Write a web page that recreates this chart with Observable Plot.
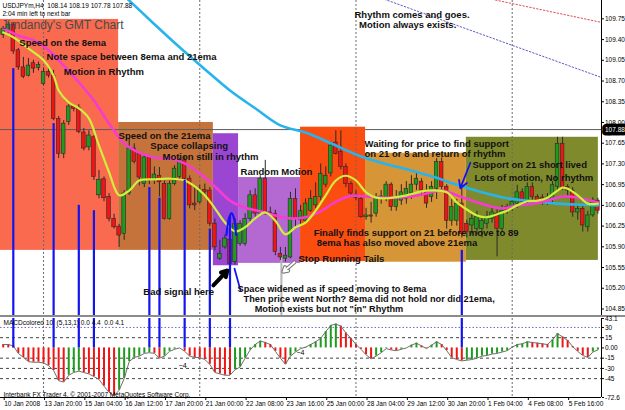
<!DOCTYPE html>
<html>
<head>
<meta charset="utf-8">
<script src="https://cdn.jsdelivr.net/npm/d3@7"></script>
<script src="https://cdn.jsdelivr.net/npm/@observablehq/plot@0.6"></script>
<style>
  html, body { margin: 0; padding: 0; background: #fff; }
  #chart { width: 625px; height: 410px; overflow: hidden; background: #fff; }
  #chart svg { display: block; }
  #divider { height: 2px; background: #8c8c8c; }
</style>
</head>
<body>
<div id="chart"></div>
<script>
// ---------------- DATA ----------------
const open = [109.48,109.55,109.65,109.22,108.93,108.79,109.00,108.92,108.65,108.85,
108.79,108.06,107.47,108.01,108.27,108.25,107.83,107.58,107.75,106.77,
107.04,106.74,106.37,106.24,106.12,106.80,107.56,107.47,106.96,107.41,
107.02,107.10,106.96,106.37,106.96,107.08,107.36,107.05,106.63,106.65,
106.86,106.85,106.29,105.70,105.89,106.02,105.64,105.95,105.95,106.37,
106.77,106.46,107.05,106.48,106.46,105.78,105.70,105.72,106.71,106.35,
106.34,106.51,106.60,106.74,106.95,107.14,107.66,107.50,107.25,106.96,
106.77,106.71,106.40,106.43,106.46,106.71,106.73,106.95,106.57,106.68,
106.71,106.80,106.95,107.00,106.85,106.74,106.88,107.33,106.91,106.34,
106.34,106.63,106.29,106.26,106.20,106.20,106.29,106.37,106.46,106.20,
106.57,106.57,106.63,106.82,106.68,106.91,106.74,106.73,106.66,106.71,
106.91,107.64,106.91,106.85,106.48,106.54,106.23,106.43,106.68];
const high = [109.62,109.70,109.68,109.25,109.10,109.08,109.05,109.02,108.92,108.92,
108.88,108.10,108.03,108.30,108.30,108.30,107.90,107.86,107.78,107.19,
107.08,106.80,106.45,106.28,106.85,107.73,107.64,107.50,107.44,107.44,
107.25,107.24,107.01,107.01,107.27,107.39,107.42,107.10,106.91,106.94,
106.96,106.90,106.37,106.01,106.10,106.10,106.37,106.34,106.46,106.85,
106.88,107.10,107.36,106.57,106.52,105.89,105.89,106.82,106.88,106.60,
106.71,106.85,106.98,107.30,107.25,107.67,107.86,107.86,107.30,107.00,
106.85,106.77,106.55,106.65,106.80,106.85,107.00,106.98,106.85,106.95,
107.00,107.10,107.15,107.05,106.95,107.00,107.39,107.40,106.95,106.70,
106.70,106.91,106.35,106.45,106.50,106.40,106.50,106.55,106.55,106.60,
106.62,106.72,106.94,106.88,106.98,106.98,106.78,106.78,106.80,107.00,
107.75,107.75,106.95,106.90,106.60,106.58,106.50,106.73,106.72];
const low = [109.42,109.50,109.15,108.88,108.74,108.77,108.83,108.87,108.62,108.75,
108.03,107.39,107.39,107.95,108.18,107.81,107.52,107.52,107.02,106.71,
106.66,106.32,106.20,105.89,106.01,106.77,107.30,106.93,106.90,106.95,
106.95,106.74,106.35,106.35,106.93,107.02,107.02,106.54,106.51,106.62,
106.77,106.24,105.83,105.67,105.86,105.59,105.59,105.91,105.91,106.32,
106.40,106.43,106.43,106.43,105.75,105.67,105.64,105.70,106.22,106.28,
106.30,106.48,106.55,106.68,106.90,107.08,107.45,107.20,106.90,106.75,
106.68,106.38,106.35,106.30,106.40,106.62,106.66,106.50,106.50,106.60,
106.62,106.70,106.85,106.75,106.55,106.65,106.70,106.85,106.20,106.25,
106.25,106.05,106.05,106.10,106.10,106.05,106.20,106.30,105.73,106.15,
106.45,106.50,106.55,106.60,106.62,106.65,106.62,106.60,106.60,106.65,
106.85,106.85,106.75,106.40,106.35,106.15,106.15,106.40,106.45];
const close = [109.58,109.65,109.20,108.93,108.77,108.96,108.91,108.97,108.85,108.79,
108.06,107.47,107.98,108.27,108.23,107.84,107.56,107.78,107.08,107.03,
106.72,106.37,106.23,106.09,106.80,107.56,107.33,107.07,107.41,107.02,
107.12,106.99,106.37,106.96,107.22,107.36,107.05,106.60,106.60,106.85,
106.82,106.29,105.89,105.78,106.04,105.61,106.29,106.29,106.37,106.77,
106.46,107.05,106.48,106.46,105.81,105.72,105.75,106.71,106.37,106.50,
106.63,106.71,106.74,107.13,107.10,107.61,107.47,107.25,106.96,106.80,
106.73,106.40,106.43,106.41,106.73,106.75,106.95,106.57,106.71,106.82,
106.88,106.95,107.05,106.85,106.63,106.91,107.33,106.91,106.34,106.57,
106.63,106.12,106.15,106.37,106.40,106.34,106.40,106.48,106.20,106.51,
106.51,106.66,106.82,106.66,106.91,106.74,106.68,106.66,106.73,106.94,
107.64,106.88,106.85,106.48,106.54,106.26,106.43,106.68,106.51];

// moving averages (bar index, price)
const ema8Bar = [0,2,5,8,10,11,13,15,17,19,21,23,25,27,30,33,36,38,40,42,44,46,48,50,52,54,56,58,60,62,64,66,68,70,72,74,76,80,84,88,90,92,94,96,98,100,102,104,106,108,110,111,112,114,116,118];
const ema8Val = [109.52,109.44,109.25,109.05,108.79,108.54,108.34,108.24,108.07,107.61,107.16,106.77,106.85,107.02,107.04,107.05,107.02,106.92,106.77,106.55,106.31,106.16,106.23,106.38,106.48,106.34,106.11,106.23,106.31,106.51,106.77,107.02,107.10,107.02,106.82,106.73,106.72,106.77,106.85,106.82,106.65,106.53,106.43,106.40,106.45,106.51,106.60,106.67,106.68,106.73,106.85,106.90,106.88,106.77,106.63,106.63];
const ema21Bar = [0,3,6,9,12,15,18,21,24,27,30,33,36,39,42,45,48,51,54,57,60,63,66,69,72,75,78,81,84,87,90,93,96,99,102,105,108,111,114,117,118];
const ema21Val = [109.59,109.47,109.39,109.22,108.96,108.68,108.37,107.98,107.65,107.49,107.41,107.39,107.31,107.14,106.92,106.68,106.56,106.50,106.43,106.38,106.40,106.50,106.66,106.76,106.75,106.73,106.73,106.75,106.80,106.85,106.77,106.68,106.60,106.55,106.60,106.63,106.68,106.75,106.73,106.67,106.65];
const ema89Bar = [20,25,30,35,40,45,50,55,60,65,70,75,80,85,90,95,100,105,110,115,118];
const ema89Val = [110.45,110.06,109.66,109.27,108.90,108.54,108.24,107.95,107.83,107.65,107.46,107.32,107.21,107.09,106.95,106.82,106.72,106.67,106.63,106.61,106.60];

// MACD histogram per bar
const macd = [5,5,3,-8,-14,-20,-21,-21,-22,-26,
-33,-48,-50,-40,-36,-34,-36,-38,-42,-46,
-56,-65,-70,-62,-45,-20,-14,-12,-8,-7,
-8,-15,-12,-5,-2,0,-5,-12,-14,-14,
-17,-24,-36,-38,-40,-40,-32,-28,-15,-3,
5,10,8,5,-5,-15,-24,-12,-6,-1,
1,5,9,14,24,33,35,32,22,14,
5,-2,-10,-16,-12,-7,-1,-3,-4,-2,
0,4,7,3,-1,4,9,5,-4,-14,
-17,-19,-18,-17,-15,-12,-11,-9,-8,-6,
-4,1,5,6,9,8,7,6,5,12,
21,16,11,2,-5,-11,-14,-6,-3];

// axes
const timeTickBar = [0,8,16,24,32,40,48,56,64,72,80,88,96,104,112];
const timeTickLabel = ["10 Jan 2008","13 Jan 20:00","15 Jan 04:00","16 Jan 12:00","17 Jan 20:00","21 Jan 00:00","22 Jan 08:00","23 Jan 16:00","25 Jan 00:00","28 Jan 04:00","29 Jan 12:00","30 Jan 20:00","1 Feb 04:00","4 Feb 08:00","5 Feb 16:00"];
const priceTicks = [104.85,105.20,105.55,105.90,106.25,106.60,106.95,107.30,107.65,108.00,108.35,108.70,109.05,109.40,109.75];
const lastPrice = 107.88;
const macdTicks = [43.1,30,15,0,-15,-30,-45,-72.6];
const macdTickLabel = ["43.1","30","15","0.00","-15","-30","-45","-72.6"];
const macdGridDark = [15,-15,-30,-45];
const macdGridBlue = [30];
const gridBar = [8,39,70,101];
const xDomain = [-0.54, 118.72];
const priceDomain = [104.74, 110.06];
const macdDomain = [-72.6, 43.1];

// highlighted zones (bar index span, price span)
const zoneName   = ["speed8","speed21","collapse","random","finally","waiting","noRhythm"];
const zoneStart  = [-0.54, 22.9, 41.7, 46.7, 59.0, 71.9, 91.9];
const zoneEnd    = [22.9, 41.7, 46.7, 59.0, 71.9, 91.9, 118.1];
const zoneTop    = [109.74, 108.00, 107.81, 107.07, 107.92, 107.48, 107.75];
const zoneBottom = [105.84, 105.84, 105.58, 105.62, 105.65, 105.64, 105.67];

// blue signal lines
const signalBar = [2,10,15,18,29,31,36,41,45,91];
const signalTop = [108.91,107.98,106.60,106.51,106.90,106.72,107.02,106.20,106.43,105.84];

// annotations
const noteText = ["Speed on the 8ema","Note space between 8ema and 21ema","Motion in Rhythm",
"Rhythm comes and goes."," Motion always exists.","Speed on the 21ema","Space collapsing",
"Motion still in rhythm","Random Motion","Waiting for price to find support",
"on 21 or 8 and return of rhythm","Support on 21 short lived","Lots of motion, No rhythm",
"Finally finds support on 21 before move to 89","8ema has also moved above 21ema",
"Stop Running Tails","Bad signal here","Space widened as if speed moving to 8ema",
"Then price went North? 8ema did not hold nor did 21ema,","Motion exists but not \"in\" Rhythm"];
const noteBar = [3.2,8.6,12.0,69.7,70.1,22.9,29.2,31.6,47.1,71.7,71.7,93.1,93.5,61.6,62.2,58.6,27.8,46.5,47.7,49.9];
const notePrice = [109.35,109.10,108.86,109.81,109.64,107.78,107.60,107.42,107.16,107.63,107.46,107.29,107.07,106.14,105.97,105.70,105.14,105.19,105.02,104.85];
const chartTitle = "Jimdandy's GMT Chart";
const headerText = "USDJPYm,H4  108.14 108.19 107.78 107.88\n2:04 min left to next bar";
const macdLabel = "MACDcolored 10  (5,13,1) 0.0 4.4  0.0 4.1";
const copyright = "Interbank FX Trader 4, \u00a9 2001-2007 MetaQuotes Software Corp.";
const macdNoteBar = [34.8, 58.2];
const macdNoteVal = [-25.7, -6.7];
const macdNoteText = ["\u22124", "\u22124"];

// drawn objects
const arrowKind = ["blue","black","hollow"];
const arrowFromBar = [92.7, 41.7, 57.8];
const arrowFromPrice = [107.32, 105.25, 105.64];
const arrowToBar = [90.7, 44.5, 55.6];
const arrowToPrice = [106.89, 105.50, 105.48];
const archBar = [44.3,44.8,45.3,45.8,46.2];
const archPrice = [106.10,106.38,106.47,106.38,106.10];
const leaderBar = [45.9,47.1];
const leaderPrice = [105.53,105.16];
const tailMarkBar = [55.2];
const tailMarkTop = 105.75;
const trendBlueBar = [75,118.72];
const trendBluePrice = [110.10,108.76];
const trendRedBar = [97,118.72];
const trendRedPrice = [110.08,109.69];

// ---------------- STYLES ----------------
const zoneFill = {speed8:"#f96a4f", speed21:"#c5733a", collapse:"#9b46d3", random:"#b469d2",
                  finally:"#fb4d10", waiting:"#d69536", noRhythm:"#7f8a2d"};
const font = "'Liberation Sans', Arial, sans-serif";
const UP = "#1e9a1e", DOWN = "#f01414", SIG = "#1414f0";
const smallNote = new Set([17, 18, 19]);

// ---------------- BUILD ----------------
const bars = open.map((o, i) => ({i, o, h: high[i], l: low[i], c: close[i]}));
const zones = zoneName.map((name, k) => ({name, start: zoneStart[k], end: zoneEnd[k], top: zoneTop[k], bottom: zoneBottom[k]}));
const zonesBack = zones.filter(z => z.name !== "finally");
const zonesFront = zones.filter(z => z.name === "finally");
const line = (xs, ys) => xs.map((x, k) => ({x, y: ys[k]}));
const ema8 = line(ema8Bar, ema8Val), ema21 = line(ema21Bar, ema21Val), ema89 = line(ema89Bar, ema89Val);
const signals = signalBar.map((i, k) => ({i, top: signalTop[k]}));
const notes = noteText.map((t, k) => ({t, k, x: noteBar[k], y: notePrice[k]}));
const arrows = arrowKind.map((kind, k) => ({kind, x1: arrowFromBar[k], y1: arrowFromPrice[k], x2: arrowToBar[k], y2: arrowToPrice[k]}));
const macdRows = macd.map((v, i) => ({i, v, up: i > 0 && v > macd[i - 1]}));
const macdNotes = macdNoteText.map((t, k) => ({t, x: macdNoteBar[k], y: macdNoteVal[k]}));

const main = Plot.plot({
  width: 625, height: 315,
  marginLeft: 0, marginRight: 24, marginTop: 0, marginBottom: 0,
  x: {domain: xDomain, axis: null},
  y: {domain: priceDomain, axis: null},
  style: {fontFamily: font, fontSize: "6.5px", background: "transparent", overflow: "visible"},
  marks: [
    Plot.rect(zonesBack, {x1: "start", x2: "end", y1: "bottom", y2: "top", fill: d => zoneFill[d.name]}),
    Plot.ruleY([lastPrice], {stroke: "#5c5c5c", strokeWidth: 1}),
    Plot.rect(zonesFront, {x1: "start", x2: "end", y1: "bottom", y2: "top", fill: d => zoneFill[d.name]}),
    Plot.ruleX(gridBar, {stroke: "#6a6a6a", strokeDasharray: "2,2", strokeWidth: 1}),
    Plot.line(line(trendBlueBar, trendBluePrice), {x: "x", y: "y", stroke: "#5c5cc8", strokeDasharray: "1.5,2", strokeWidth: 1, clip: true}),
    Plot.line(line(trendRedBar, trendRedPrice), {x: "x", y: "y", stroke: "#e05050", strokeDasharray: "1.5,2", strokeWidth: 1, clip: true}),
    Plot.ruleX(tailMarkBar, {y1: tailMarkTop, y2: priceDomain[0], stroke: "#b4b4b4", strokeWidth: 2}),
    // candles
    Plot.ruleX(bars, {x: "i", y1: "l", y2: "h", stroke: "#2a2a2a", strokeWidth: 1}),
    Plot.rect(bars, {x1: d => d.i - 0.36, x2: d => d.i + 0.36, y1: "o", y2: "c",
      fill: d => d.c >= d.o ? UP : DOWN, stroke: "#2a2a2a", strokeWidth: 0.6}),
    // moving averages
    Plot.line(ema89, {x: "x", y: "y", stroke: "#27b4ec", strokeWidth: 2.6, curve: "catmull-rom", clip: true}),
    Plot.line(ema21, {x: "x", y: "y", stroke: "#f53cd2", strokeWidth: 2.6, curve: "catmull-rom", clip: true}),
    Plot.line(ema8, {x: "x", y: "y", stroke: "#cdf03c", strokeWidth: 2.2, curve: "catmull-rom", clip: true}),
    // signals
    Plot.ruleX(signals, {x: "i", y1: "top", y2: priceDomain[0], stroke: SIG, strokeWidth: 2.2}),
    Plot.line(line(archBar, archPrice), {x: "x", y: "y", stroke: SIG, strokeWidth: 2.2, curve: "catmull-rom"}),
    Plot.line(line(leaderBar, leaderPrice), {x: "x", y: "y", stroke: SIG, strokeWidth: 1.8}),
    Plot.arrow(arrows.filter(a => a.kind === "blue"), {x1: "x1", y1: "y1", x2: "x2", y2: "y2", stroke: SIG, strokeWidth: 1.8, headLength: 7}),
    Plot.arrow(arrows.filter(a => a.kind === "black"), {x1: "x1", y1: "y1", x2: "x2", y2: "y2", stroke: "#000", strokeWidth: 4, headLength: 9}),
    Plot.arrow(arrows.filter(a => a.kind === "hollow"), {x1: "x1", y1: "y1", x2: "x2", y2: "y2", stroke: "#7a7a7a", strokeWidth: 4, headLength: 8}),
    Plot.arrow(arrows.filter(a => a.kind === "hollow"), {x1: "x1", y1: "y1", x2: "x2", y2: "y2", stroke: "#fff", strokeWidth: 1.8, headLength: 8}),
    // texts
    Plot.text([headerText], {frameAnchor: "top-left", dx: 2, dy: 2.5, fontSize: 6.5, lineHeight: 1.15, fill: "#000"}),
    Plot.text([chartTitle], {frameAnchor: "top-left", dx: 1, dy: 20, fontSize: 12, fill: "#4a4a4a"}),
    Plot.text(notes.filter(n => !smallNote.has(n.k)), {x: "x", y: "y", text: "t", textAnchor: "start", fontSize: 9.5, fontWeight: "bold", fill: "#111"}),
    Plot.text(notes.filter(n => smallNote.has(n.k)), {x: "x", y: "y", text: "t", textAnchor: "start", fontSize: 9.2, fontWeight: "bold", fill: "#111"}),
    // right axis
    Plot.ruleX([xDomain[1]], {stroke: "#000"}),
    Plot.axisY(priceTicks, {anchor: "right", tickSize: 2, tickPadding: 1.5, tickFormat: d => d.toFixed(2), fontSize: 6.5}),
    Plot.text([lastPrice], {x: xDomain[1], y: d => d, text: d => d.toFixed(2), textAnchor: "start", dx: 3.5,
      fill: "#fff", stroke: "#000", strokeWidth: 7, fontSize: 6.5})
  ]
});

const sub = Plot.plot({
  width: 625, height: 93,
  marginLeft: 0, marginRight: 24, marginTop: 1, marginBottom: 13,
  x: {domain: xDomain, axis: null},
  y: {domain: macdDomain, axis: null},
  style: {fontFamily: font, fontSize: "6.5px", background: "transparent", overflow: "visible"},
  marks: [
    Plot.ruleY(macdGridBlue, {stroke: "#6a6ad0", strokeDasharray: "1.5,2"}),
    Plot.ruleY(macdGridDark, {stroke: "#444", strokeDasharray: "3,3"}),
    Plot.ruleX(gridBar, {stroke: "#6a6a6a", strokeDasharray: "2,2"}),
    Plot.ruleX(macdRows, {x: "i", y1: 0, y2: "v", stroke: d => d.up ? UP : DOWN, strokeWidth: 2}),
    Plot.line(macdRows, {x: "i", y: "v", stroke: "#6e6e6e", strokeWidth: 1}),
    Plot.ruleX(signals, {x: "i", y1: macdDomain[1], y2: 0, stroke: SIG, strokeWidth: 2.2}),
    Plot.text(macdNotes, {x: "x", y: "y", text: "t", textAnchor: "start", fontSize: 7, fill: "#000"}),
    Plot.text([macdLabel], {frameAnchor: "top-left", dx: 3, dy: 2, fontSize: 6.5, fill: "#000"}),
    Plot.text([copyright], {frameAnchor: "bottom-left", dx: 3, dy: -1, fontSize: 6.5, fill: "#000"}),
    Plot.ruleY([macdDomain[0]], {stroke: "#000"}),
    Plot.ruleX([xDomain[1]], {stroke: "#000"}),
    Plot.axisY(macdTicks, {anchor: "right", tickSize: 2, tickPadding: 1.5,
      tickFormat: d => macdTickLabel[macdTicks.indexOf(d)], fontSize: 6.5}),
    Plot.axisX(timeTickBar, {anchor: "bottom", tickSize: 3, tickPadding: 1, textAnchor: "start", dx: 1,
      tickFormat: d => timeTickLabel[timeTickBar.indexOf(d)], fontSize: 6.5})
  ]
});

const chart = document.getElementById("chart");
chart.append(main);
const divider = document.createElement("div");
divider.id = "divider";
chart.append(divider);
chart.append(sub);
</script>
</body>
</html>
